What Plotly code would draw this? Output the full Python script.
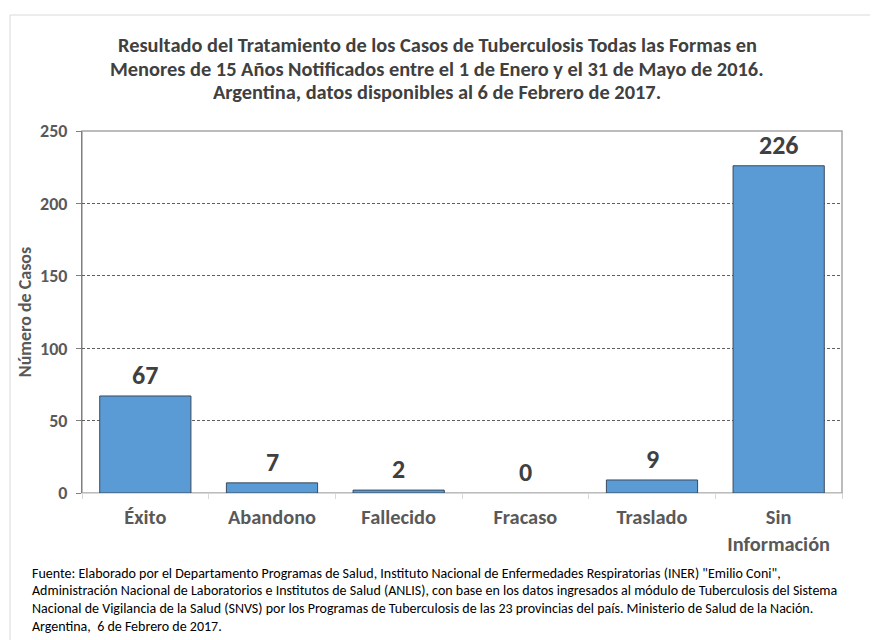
"""
Resultado del tratamiento de casos de TB en menores de 15 años (Argentina 2016).
"""

import plotly.graph_objects as go

# Datos
categorias = ['Éxito', 'Abandono', 'Fallecido', 'Fracaso', 'Traslado', 'Sin<br>Información']
casos = [67, 7, 2, 0, 9, 226]
ticks_y = [0, 50, 100, 150, 200, 250]

titulo = ["Resultado del Tratamiento de los Casos de Tuberculosis Todas las Formas en",
          "Menores de 15 Años Notificados entre el 1 de Enero y el 31 de Mayo de 2016.",
          "Argentina, datos disponibles al 6 de Febrero de 2017."]

fuente = ['Fuente: Elaborado por el Departamento Programas de Salud, Instituto Nacional de Enfermedades Respiratorias (INER) "Emilio Coni",',
          'Administración Nacional de Laboratorios e Institutos de Salud (ANLIS), con base en los datos ingresados al módulo de Tuberculosis del Sistema',
          'Nacional de Vigilancia de la Salud (SNVS) por los Programas de Tuberculosis de las 23 provincias del país. Ministerio de Salud de la Nación.',
          'Argentina,  6 de Febrero de 2017.']

FUENTE_TXT = "Calibri, Carlito, Lato, Arial, sans-serif"

# tamaño de la figura (la página deja 8px de margen)
W, H = 870, 632
ML, MR, MT, MB = 74, 36, 123, 147
PW, PH = W - ML - MR, H - MT - MB


def py(fy):
    """px desde arriba de la figura -> coordenada paper en y"""
    return (MT + PH - fy) / PH


def px(fx):
    """px desde la izquierda de la figura -> coordenada paper en x"""
    return (fx - ML) / PW


fig = go.Figure()

fig.add_trace(go.Bar(
    x=categorias,
    y=casos,
    width=0.72,
    marker=dict(
        color='#5B9BD5',
        # sin contorno cuando la barra vale 0
        line=dict(color='#3A4A5C', width=[1 if v > 0 else 0 for v in casos])
    ),
    hoverinfo='skip',
    showlegend=False
))

# Etiquetas de valores sobre las barras
for cat, v in zip(categorias, casos):
    fig.add_annotation(
        x=cat, y=v, text=str(v),
        yanchor='bottom', yshift=3,
        showarrow=False,
        font=dict(size=26, color='#404040', family=FUENTE_TXT, weight='bold')
    )

# Título, una línea por anotación para controlar el interlineado
for i, linea in enumerate(titulo):
    fig.add_annotation(
        text=linea,
        xref='paper', yref='paper',
        x=px(429), y=py(37 + i * 23.5),
        xanchor='center', yanchor='middle',
        showarrow=False,
        font=dict(size=20.4, color='#404040', family=FUENTE_TXT, weight='bold')
    )

# Nota de fuente
for i, linea in enumerate(fuente):
    fig.add_annotation(
        text=linea,
        xref='paper', yref='paper',
        x=px(22), y=py(565 + i * 17.7),
        xanchor='left', yanchor='middle', align='left',
        showarrow=False,
        font=dict(size=14, color='#000000', family=FUENTE_TXT)
    )

# Marco de la zona del gráfico
fig.add_shape(
    type='rect', xref='x domain', yref='y domain',
    x0=0, x1=1, y0=0, y1=1,
    line=dict(color='#A6A6A6', width=1.5),
    layer='below'
)

# Marco exterior
fig.add_shape(
    type='rect', xref='paper', yref='paper',
    x0=px(2), x1=1.2, y0=-1.0, y1=py(7),
    line=dict(color='#D9D9D9', width=1)
)

fig.update_layout(
    xaxis=dict(
        showline=True, linecolor='#D9D9D9', linewidth=1,
        ticks='outside', tickson='boundaries', ticklen=5, tickcolor='#D9D9D9',
        ticklabelstandoff=6,
        tickfont=dict(size=20.4, color='#595959', family=FUENTE_TXT, weight='bold'),
        showgrid=False
    ),
    yaxis=dict(
        range=[0, 250],
        tickvals=ticks_y,
        showline=True, linecolor='#808080', linewidth=1,
        ticks='outside', ticklen=5, tickcolor='#808080',
        ticklabelstandoff=5,
        tickfont=dict(size=18, color='#595959', family=FUENTE_TXT, weight='bold'),
        showgrid=True, gridcolor='#606060', griddash='3px,2px', gridwidth=1,
        zeroline=False,
        title=dict(text='Número de Casos', standoff=3,
                   font=dict(size=18, color='#595959', family=FUENTE_TXT, weight='bold'))
    ),
    paper_bgcolor='white',
    plot_bgcolor='white',
    width=W, height=H,
    margin=dict(l=ML, r=MR, t=MT, b=MB),
    bargap=0.28
)

fig.write_html("out.html")
